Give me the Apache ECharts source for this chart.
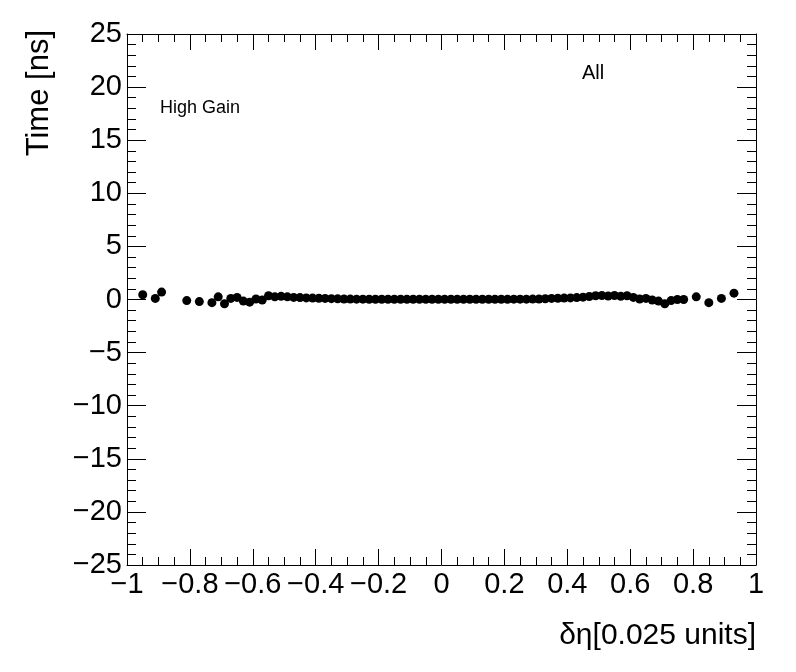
<!DOCTYPE html>
<html>
<head>
<meta charset="utf-8">
<title>Time vs delta eta</title>
<script src="https://cdn.jsdelivr.net/npm/echarts@6/dist/echarts.min.js"></script>
<style>
  html, body { margin: 0; padding: 0; background: #ffffff; }
  #chart { width: 796px; height: 672px; }
</style>
</head>
<body>
<div id="chart"></div>
<script>
// bin centres in delta eta (0.02 wide bins), only filled bins
var etaBins = [
  -0.95, -0.91, -0.89, -0.81, -0.77, -0.73, -0.71, -0.69, -0.67, -0.65,
  -0.63, -0.61, -0.59, -0.57, -0.55, -0.53, -0.51, -0.49, -0.47, -0.45,
  -0.43, -0.41, -0.39, -0.37, -0.35, -0.33, -0.31, -0.29, -0.27, -0.25,
  -0.23, -0.21, -0.19, -0.17, -0.15, -0.13, -0.11, -0.09, -0.07, -0.05,
  -0.03, -0.01, 0.01, 0.03, 0.05, 0.07, 0.09, 0.11, 0.13, 0.15,
  0.17, 0.19, 0.21, 0.23, 0.25, 0.27, 0.29, 0.31, 0.33, 0.35,
  0.37, 0.39, 0.41, 0.43, 0.45, 0.47, 0.49, 0.51, 0.53, 0.55,
  0.57, 0.59, 0.61, 0.63, 0.65, 0.67, 0.69, 0.71, 0.73, 0.75,
  0.77, 0.81, 0.85, 0.89, 0.93
];
// mean time [ns] per bin
var timeValues = [
  0.45, 0.1, 0.7, -0.1, -0.2, -0.3, 0.25, -0.4, 0.1, 0.2,
  -0.15, -0.25, 0.05, -0.05, 0.35, 0.25, 0.3, 0.25, 0.2, 0.18,
  0.15, 0.13, 0.12, 0.1, 0.08, 0.06, 0.05, 0.04, 0.03, 0.03,
  0.02, 0.02, 0.02, 0.02, 0.02, 0.02, 0.02, 0.02, 0.02, 0.02,
  0.02, 0.02, 0.02, 0.02, 0.02, 0.02, 0.02, 0.02, 0.02, 0.02,
  0.02, 0.02, 0.02, 0.03, 0.03, 0.03, 0.04, 0.05, 0.07, 0.1,
  0.12, 0.13, 0.15, 0.18, 0.22, 0.28, 0.35, 0.38, 0.32, 0.38,
  0.3, 0.35, 0.2, 0.05, 0.1, -0.05, -0.15, -0.4, -0.1, 0.0,
  0.0, 0.25, -0.3, 0.1, 0.6
];

var points = etaBins.map(function (x, i) { return [x, timeValues[i]]; });

function rootLabel(v) {
  var r = Math.round(v * 10) / 10;
  return String(r).replace('-', '\u2212');
}

var chartDom = document.getElementById('chart');
var myChart = echarts.init(chartDom, null, { renderer: 'canvas' });

var lineStyle = { color: '#000', width: 1 };
var fontFamily = 'Liberation Sans, Arial, sans-serif';

function xAxis(pos, labels) {
  return {
    type: 'value', position: pos, min: -1, max: 1, interval: 0.2,
    axisLine: { show: true, onZero: false, lineStyle: lineStyle },
    axisTick: { show: true, inside: true, length: 16, lineStyle: lineStyle },
    minorTick: { show: true, splitNumber: 4, length: 8, lineStyle: lineStyle },
    splitLine: { show: false },
    axisLabel: {
      show: labels, margin: 5, color: '#000', fontSize: 29,
      fontFamily: fontFamily, formatter: rootLabel
    }
  };
}
function yAxis(pos, labels) {
  return {
    type: 'value', position: pos, min: -25, max: 25, interval: 5,
    axisLine: { show: true, onZero: false, lineStyle: lineStyle },
    axisTick: { show: true, inside: true, length: 19, lineStyle: lineStyle },
    minorTick: { show: true, splitNumber: 5, length: 9, lineStyle: lineStyle },
    splitLine: { show: false },
    axisLabel: {
      show: labels, margin: 5, color: '#000', fontSize: 29,
      fontFamily: fontFamily,
      formatter: function (v) { return String(v).replace('-', '\u2212'); }
    }
  };
}

var option = {
  backgroundColor: '#ffffff',
  animation: false,
  grid: { left: 127, right: 40, top: 34, bottom: 107, containLabel: false },
  xAxis: [xAxis('bottom', true), xAxis('top', false)],
  yAxis: [yAxis('left', true), yAxis('right', false)],
  graphic: [
    {
      type: 'text', x: 39, y: 30, rotation: Math.PI / 2,
      style: { text: 'Time [ns]', fill: '#000', font: '31px ' + fontFamily,
               align: 'right', verticalAlign: 'middle' }
    },
    {
      type: 'text', x: 756, y: 636,
      style: { text: '\u03b4\u03b7[0.025 units]', fill: '#000', font: '30px ' + fontFamily,
               align: 'right', verticalAlign: 'middle' }
    },
    {
      type: 'text', x: 160, y: 108,
      style: { text: 'High Gain', fill: '#000', font: '18px ' + fontFamily,
               align: 'left', verticalAlign: 'middle' }
    },
    {
      type: 'text', x: 582, y: 73,
      style: { text: 'All', fill: '#000', font: '20px ' + fontFamily,
               align: 'left', verticalAlign: 'middle' }
    }
  ],
  series: [
    {
      name: 'All',
      type: 'scatter',
      xAxisIndex: 0,
      yAxisIndex: 0,
      symbol: 'circle',
      symbolSize: 9,
      itemStyle: { color: '#000', opacity: 1 },
      data: points
    }
  ]
};
myChart.setOption(option);
</script>
</body>
</html>
